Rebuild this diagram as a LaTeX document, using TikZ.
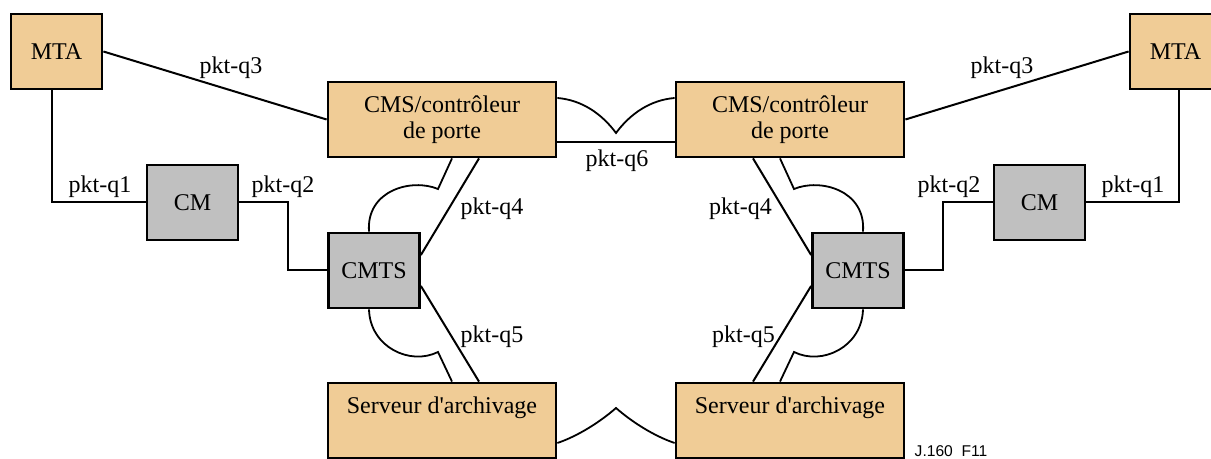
\documentclass[tikz,border=0pt]{standalone}
\usepackage{fontspec}
\setmainfont{Liberation Serif}
\newfontfamily\reffont{Liberation Sans}
\definecolor{porte}{RGB}{240,204,150}
\definecolor{modem}{RGB}{192,192,192}

\begin{document}
\begin{tikzpicture}[x=0.5pt, y=-0.5pt, font=\fontsize{12pt}{13pt}\selectfont,
    main/.style = {draw, line width=1.4pt, inner sep=0pt, minimum height=37.5pt},
    small/.style = {main, minimum width=45.5pt},
    wide/.style = {main, minimum width=114pt, align=center},
    link/.style = {line width=1pt},
    curveline/.style = {line width=0.9pt}]
    \clip (0,0) rectangle (1211,459);
    % boites
    \node[small, fill=porte] (mtaL) at (56.5,51.5) {MTA};
    \node[small, fill=porte] (mtaR) at (1175.5,51.5) {MTA};
    \node[small, fill=modem] (cmL) at (192.5,202.5) {CM};
    \node[small, fill=modem] (cmR) at (1039.5,202.5) {CM};
    \node[small, fill=modem] (cmtsL) at (374,270.5) {CMTS};
    \node[small, fill=modem] (cmtsR) at (858,270.5) {CMTS};
    \node[wide, fill=porte] (cmsL) at (442,119.5) {CMS/contrôleur\\de porte};
    \node[wide, fill=porte] (cmsR) at (790,119.5) {CMS/contrôleur\\de porte};
    \node[wide, fill=porte, text height=8.5pt, text depth=15pt] (srvL) at (442,420.5) {Serveur d\textquotesingle archivage};
    \node[wide, fill=porte, text height=8.5pt, text depth=15pt] (srvR) at (790,420.5) {Serveur d\textquotesingle archivage};
    % liaisons
    \draw[link] (mtaL.east) -- (cmsL.west);
    \draw[link] (cmsR.east) -- (mtaR.west);
    \draw[link] ([xshift=-2.25pt]mtaL.south) |- (cmL.west);
    \draw[link] ([xshift=1.75pt]mtaR.south) |- (cmR.east);
    \draw[link] (cmL.east) -- ++(24.5pt,0) |- (cmtsL.west);
    \draw[link] (cmR.west) -- ++(-25pt,0) |- (cmtsR.east);
    \draw[link] ([yshift=-11.25pt]cmsL.east) -- ([yshift=-11.25pt]cmsR.west);
    \draw[link] ([xshift=18.5pt]cmsL.south) -- ([yshift=7.75pt]cmtsL.east);
    \draw[link] ([yshift=-7.75pt]cmtsL.east) -- ([xshift=18.5pt]srvL.north);
    \draw[link] ([xshift=-18.5pt]cmsR.south) -- ([yshift=7.75pt]cmtsR.west);
    \draw[link] ([yshift=-7.75pt]cmtsR.west) -- ([xshift=-18.5pt]srvR.north);
    % courbes
    \draw[curveline] ([xshift=5pt]cmsL.south) -- (438,189) .. controls (412,178) and (366,190) .. ([xshift=-2.5pt]cmtsL.north);
    \draw[curveline] ([xshift=-2.5pt]cmtsL.south) .. controls (370,347) and (410,366) .. (438,352) -- ([xshift=5pt]srvL.north);
    \draw[curveline] ([xshift=-5pt]cmsR.south) -- (794,189) .. controls (820,178) and (866,190) .. ([xshift=2.5pt]cmtsR.north);
    \draw[curveline] ([xshift=2.5pt]cmtsR.south) .. controls (862,347) and (822,366) .. (794,352) -- ([xshift=-5pt]srvR.north);
    \draw[curveline] ([yshift=10.75pt]cmsL.east) .. controls (582,100) and (602,114) .. (616,133) .. controls (630,114) and (650,100) .. ([yshift=10.75pt]cmsR.west);
    \draw[curveline] ([yshift=-11.25pt]srvL.east) .. controls (578,436) and (600,422) .. (616,408) .. controls (632,422) and (654,436) .. ([yshift=-11.25pt]srvR.west);
    % etiquettes
    \node (q3L) at (231,67.5) {pkt-q3};
    \node (q1L) at (100,187) {pkt-q1};
    \node (q2L) at (283,187) {pkt-q2};
    \node (q4L) at (492,209) {pkt-q4};
    \node (q5L) at (492,337) {pkt-q5};
    \node (q6) at (617,161) {pkt-q6};
    \node (q3R) at (1002,67.5) {pkt-q3};
    \node (q2R) at (949,187) {pkt-q2};
    \node (q1R) at (1133,187) {pkt-q1};
    \node (q4R) at (740.5,209) {pkt-q4};
    \node (q5R) at (743.5,337) {pkt-q5};
    \node[font=\reffont\fontsize{7.8pt}{9pt}\selectfont] (ref) at (951,451) {J.160\ \ F11};
\end{tikzpicture}
\end{document}
